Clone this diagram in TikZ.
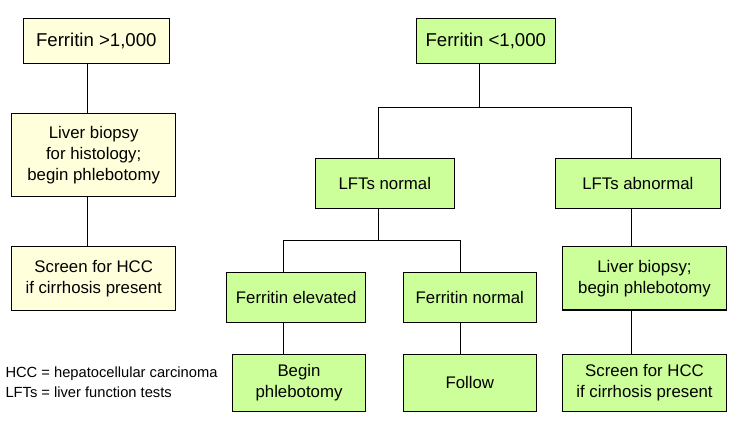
\documentclass[tikz,border=0pt]{standalone}
\usepackage{fontspec}
\setmainfont{Liberation Sans}
\definecolor{boxyellow}{HTML}{FFFFDC}
\definecolor{boxgreen}{HTML}{CCFF99}
\tikzset{
  box/.style={draw=black, line width=1.1pt, rectangle, inner sep=0pt, align=center,
    font=\fontsize{16.8}{21}\selectfont},
  topbox/.style={font=\fontsize{18.6}{22}\selectfont},
  ybox/.style={box, fill=boxyellow},
  gbox/.style={box, fill=boxgreen},
  conn/.style={draw=black, line width=1pt},
  legend/.style={anchor=base west, inner sep=0pt, font=\fontsize{14.7}{18}\selectfont}
}
\begin{document}
\begin{tikzpicture}[x=1pt,y=-1pt]
\useasboundingbox (0,0) rectangle (734,432);
% left column
\node[ybox, topbox, minimum width=146pt, minimum height=45pt] (fA) at (96.3,40.8) {Ferritin >1,000};
\node[ybox, minimum width=164pt, minimum height=83pt] (lbA) at (93.7,154.8) {Liver biopsy\\for histology;\\begin phlebotomy};
\node[ybox, minimum width=164pt, minimum height=63.6pt] (scA) at (93.7,278.5) {Screen for HCC\\if cirrhosis present};
% right tree
\node[gbox, topbox, minimum width=139pt, minimum height=45pt] (fB) at (485.8,40.8) {Ferritin <1,000};
\node[gbox, minimum width=139pt, minimum height=50pt] (lnN) at (384.8,183.3) {LFTs normal};
\node[gbox, minimum width=165pt, minimum height=50pt] (lnA) at (637.8,183.3) {LFTs abnormal};
\node[gbox, minimum width=139pt, minimum height=50pt] (feE) at (296.2,297.3) {Ferritin elevated};
\node[gbox, minimum width=133pt, minimum height=50pt] (feN) at (469.8,297.3) {Ferritin normal};
\node[gbox, minimum width=164.4pt, minimum height=63.3pt] (lbB) at (644.5,278.3) {Liver biopsy;\\begin phlebotomy};
\node[gbox, minimum width=133.4pt, minimum height=57pt] (bp) at (299,382.8) {Begin\\phlebotomy};
\node[gbox, minimum width=133pt, minimum height=57pt] (fo) at (469.8,382.8) {Follow};
\node[gbox, minimum width=164.4pt, minimum height=57pt] (scB) at (644.5,382.8) {Screen for HCC\\if cirrhosis present};
% connector x positions
\coordinate (xA) at (87.7,0);
\coordinate (xB) at (479.3,0);
\coordinate (xN) at (378.3,0);
\coordinate (xAb) at (631.3,0);
\coordinate (xE) at (283.3,0);
\coordinate (xF) at (460.3,0);
\coordinate (yB) at (0,107.3);
\coordinate (yN) at (0,240);
% connectors
\draw[conn] (fA.south -| xA) -- (lbA.north -| xA);
\draw[conn] (lbA.south -| xA) -- (scA.north -| xA);
\draw[conn] (fB.south -| xB) -- (xB |- yB);
\draw[conn] (lnN.north -| xN) -- (xN |- yB) -- (xAb |- yB) -- (lnA.north -| xAb);
\draw[conn] (lnN.south -| xN) -- (xN |- yN);
\draw[conn] (feE.north -| xE) -- (xE |- yN) -- (xF |- yN) -- (feN.north -| xF);
\draw[conn] (feE.south -| xE) -- (bp.north -| xE);
\draw[conn] (feN.south -| xF) -- (fo.north -| xF);
\draw[conn] (lnA.south -| xAb) -- (lbB.north -| xAb);
\draw[conn] (lbB.south -| xAb) -- (scB.north -| xAb);
% legend
\node[legend] (lg1) at (5.3,377.7) {HCC = hepatocellular carcinoma};
\node[legend] (lg2) at (5.3,397.7) {LFTs = liver function tests};
\end{tikzpicture}
\end{document}
